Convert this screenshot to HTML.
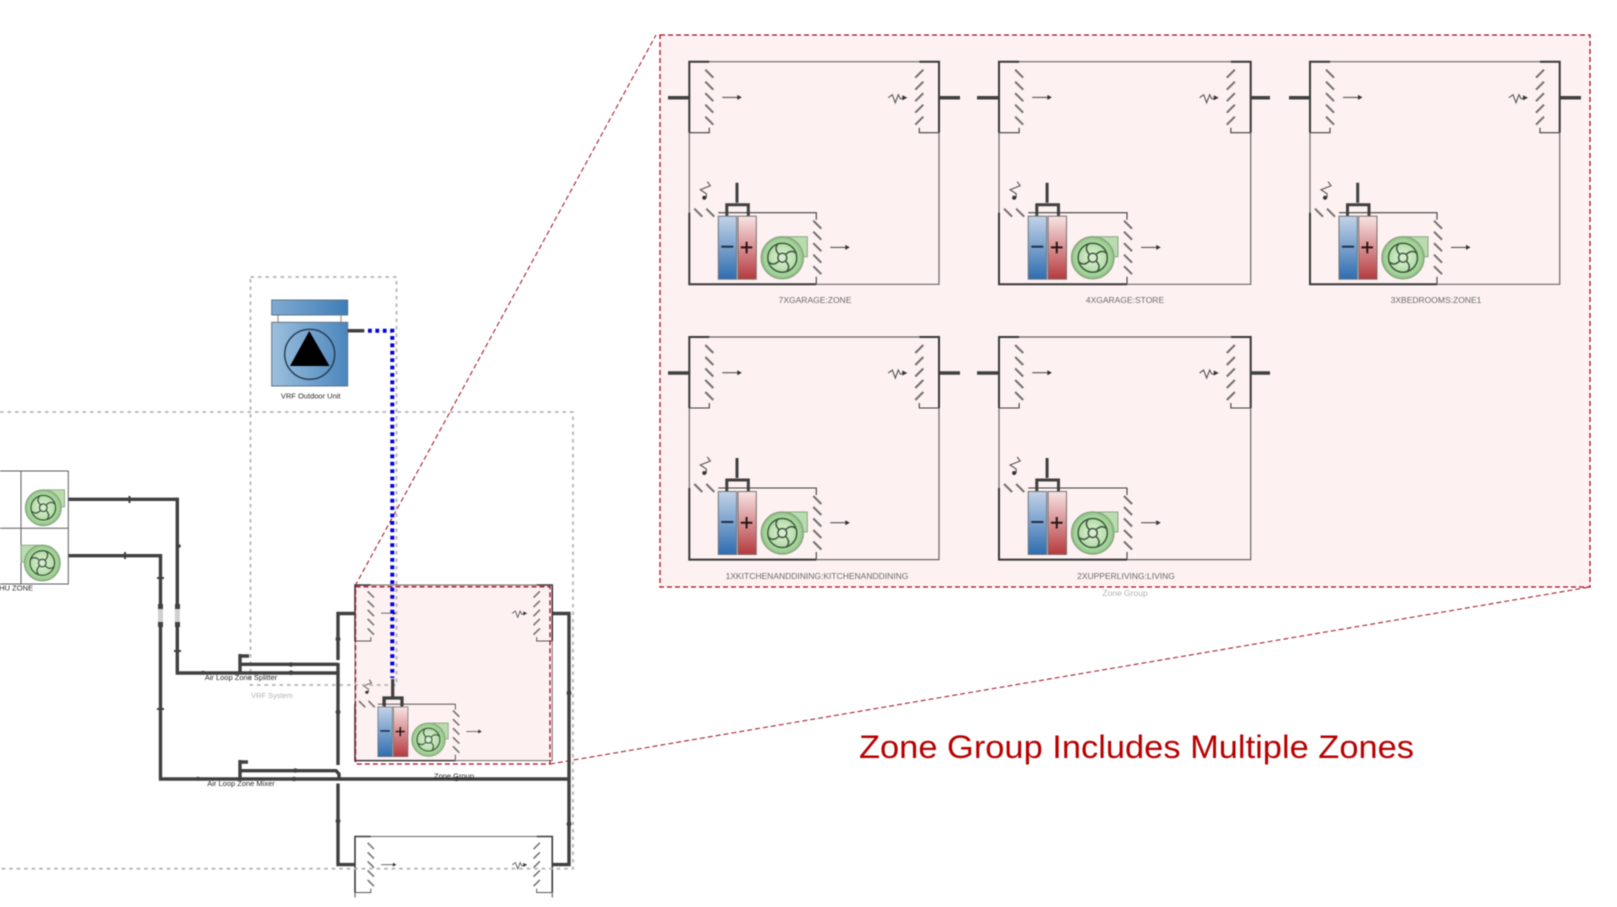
<!DOCTYPE html>
<html><head><meta charset="utf-8"><style>
html,body{margin:0;padding:0;background:#fff;width:1617px;height:907px;overflow:hidden}
svg{display:block;filter:blur(.55px)}
text{font-family:"Liberation Sans",sans-serif}
</style></head><body>
<svg width="1617" height="907" viewBox="0 0 1617 907" xmlns="http://www.w3.org/2000/svg">
<defs>
<linearGradient id="bl" x1="0" y1="0" x2="0" y2="1"><stop offset="0" stop-color="#c3d3e8"/><stop offset="1" stop-color="#2f6db0"/></linearGradient>
<linearGradient id="rd" x1="0" y1="0" x2="0" y2="1"><stop offset="0" stop-color="#f8e4e4"/><stop offset="1" stop-color="#b53a3e"/></linearGradient>
<linearGradient id="ou" x1="0" y1="0" x2="1" y2="0"><stop offset="0" stop-color="#9dbfdd"/><stop offset="1" stop-color="#4a86bd"/></linearGradient>
<linearGradient id="ou2" x1="0" y1="0" x2="1" y2="0"><stop offset="0" stop-color="#7fabd3"/><stop offset="1" stop-color="#3f7db8"/></linearGradient>
<radialGradient id="fg"><stop offset="0" stop-color="#e4f3dc"/><stop offset=".7" stop-color="#b0dba4"/><stop offset="1" stop-color="#8fc585"/></radialGradient>
<g id="fan">
<path d="M4,-21 H25 V-1 H19 Z" fill="#b9dcaf" stroke="#8aa583" stroke-width="1"/>
<circle r="21" fill="url(#fg)" stroke="#8aa583" stroke-width="1.5"/>
<circle r="14.5" fill="none" stroke="#3f5a40" stroke-width="1.5"/>
<circle r="4.5" fill="#d5ebce" stroke="#3f5a40" stroke-width="1.5"/>
<path d="M-3,-3 Q-9,-9 -4,-14 M3,-3 Q9,-9 14,-4 M3,3 Q9,9 4,14 M-3,3 Q-9,9 -14,4" fill="none" stroke="#3f5a40" stroke-width="1.5"/>
</g>
<g id="ztop">
<path d="M20,0 H230" fill="none" stroke="#6b6666" stroke-width="1.2"/>
<path d="M0,71 V0 H20" fill="none" stroke="#383838" stroke-width="2"/>
<path d="M0,71 H20 V66" fill="none" stroke="#404040" stroke-width="1.1"/>
<path d="M249.7,71 V0 H230" fill="none" stroke="#383838" stroke-width="2"/>
<path d="M249.7,71 H230 V66" fill="none" stroke="#404040" stroke-width="1.1"/>
<g stroke="#747070" stroke-width="2" fill="none">
<path d="M16,8 L24,16 M16,20 L24,28 M16,31.5 L24,39.5 M16,43 L24,51 M16,55 L24,63"/>
<path d="M234,8 L226,16 M234,20 L226,28 M234,31.5 L226,39.5 M234,43 L226,51 M234,55 L226,63"/>
</g>
<g stroke="#555" stroke-width="1.1" fill="#333">
<path d="M33,35.7 H50" fill="none"/><path d="M48,33.2 L52.5,35.7 L48,38.2 Z" stroke="none"/>
<path d="M199,36 L203,33 L206,41 L209,33 L211,37 H214" fill="none"/><path d="M213,33.5 L218,36 L213,38.5 Z" stroke="none"/>
</g>
</g>
<g id="zlow">
<path d="M0,71 V222.6 M249.7,71 V222.6 H127" fill="none" stroke="#6b6666" stroke-width="1.2"/>
<path d="M0,151 V222.6 H127" fill="none" stroke="#383838" stroke-width="2"/>
<path d="M29,151 H127 V158 M127,215 V222" fill="none" stroke="#404040" stroke-width="1.1"/>
<g stroke="#747070" stroke-width="2" fill="none">
<path d="M124,159 L132,167 M124,170 L132,178 M124,181.5 L132,189.5 M124,193 L132,201 M124,204.5 L132,212.5"/>
<path d="M5,147 L13,155 M17,147 L25,155"/>
</g>
<g stroke="#555" stroke-width="1.1" fill="#333">
<path d="M141,185.7 H158" fill="none"/><path d="M156,183.2 L160.5,185.7 L156,188.2 Z" stroke="none"/>
<path d="M18,120 L21,124 L11,128 L17,132 V136" fill="none"/><circle cx="15" cy="136" r="2" stroke="none"/>
</g>
<rect x="29" y="154.5" width="18.3" height="63" fill="url(#bl)" stroke="#70767c" stroke-width="1"/>
<rect x="48.7" y="154.5" width="18.3" height="63" fill="url(#rd)" stroke="#7c7070" stroke-width="1"/>
<path d="M32,185 H44" stroke="#1d2f45" stroke-width="2"/>
<path d="M51.5,185.7 H63 M57.3,180 V191.5" stroke="#2a1416" stroke-width="2"/>
<path d="M47.7,121 V141 M37.5,154 V143 H59 V154" fill="none" stroke="#404040" stroke-width="3"/>
<use href="#fan" x="93" y="196"/>
</g>
<g id="zone"><use href="#ztop"/><use href="#zlow"/></g>
</defs>

<!-- pink big panel -->
<rect x="660" y="35" width="930" height="552" fill="#fdf1f1" stroke="#a80a20" stroke-width="1.3" stroke-dasharray="5 3"/>
<path d="M355,586 L656,35 M550,764 L1590,587" fill="none" stroke="#a82034" stroke-width="1.1" stroke-dasharray="5 3"/>

<use href="#zone" transform="translate(689.3,61.7)"/>
<use href="#zone" transform="translate(999,61.7) scale(1.008,1)"/>
<use href="#zone" transform="translate(1310,61.7)"/>
<use href="#zone" transform="translate(689.3,337)"/>
<use href="#zone" transform="translate(999,337) scale(1.008,1)"/>
<g stroke="#404040" stroke-width="3.5" fill="none">
<path d="M668,97.7 H689 M939,97.7 H960 M977,97.7 H999 M1250.5,97.7 H1270 M1289,97.7 H1310 M1559.7,97.7 H1581"/>
<path d="M668,373 H689 M939,373 H960 M977,373 H999 M1250.5,373 H1270"/>
</g>
<g font-size="8.5" fill="#6a6a6a" text-anchor="middle">
<text x="815" y="303">7XGARAGE:ZONE</text>
<text x="1125" y="303">4XGARAGE:STORE</text>
<text x="1436" y="303">3XBEDROOMS:ZONE1</text>
<text x="817" y="579">1XKITCHENANDDINING:KITCHENANDDINING</text>
<text x="1126" y="579">2XUPPERLIVING:LIVING</text>
<text x="1125" y="596" fill="#b0b0b0">Zone Group</text>
</g>
<text x="859" y="758" font-size="32" fill="#b80000" textLength="555" lengthAdjust="spacingAndGlyphs">Zone Group Includes Multiple Zones</text>

<!-- small zone pink -->
<rect x="355" y="585" width="197.3" height="175.7" fill="#fdf1f1"/>
<use href="#zone" transform="translate(355,585) scale(.79,.789)"/>

<!-- bottom zone, top part only -->
<use href="#ztop" transform="translate(355,836.5) scale(.79,.789)"/>
<path d="M355,892 V897.5 M552.3,892 V897.5" stroke="#6b6666" stroke-width="1.2" fill="none"/>

<!-- gray dashed containers -->
<g fill="none" stroke="#b4b4b4" stroke-width="1.8" stroke-dasharray="3.5 4">
<rect x="250.5" y="277" width="146" height="408"/>
<path d="M0,412 H573 V868.7 H0"/>
</g>

<!-- ducts -->
<g fill="none" stroke="#404040" stroke-width="3.4">
<path d="M68,499.3 H177.3 V606 M177.3,625 V673 H338"/>
<path d="M68,555.7 H160.5 V606 M160.5,625 V779 H337.5 L340,779 H569"/>
<path d="M240,656 H249 M240,654 V673 M240,664.3 H338"/>
<path d="M240,762 H248 M240,760 V779 M240,770.7 H336 L339,774 V779"/>
<path d="M355,613.5 H338 V660 M338,663 V765 M338,783.5 V864.6 H355"/>
<path d="M552,613.5 H569 V864.6 H552"/>
</g>
<g fill="none" stroke="#cfcfcf" stroke-width="5"><path d="M160.5,608 V623 M177.3,608 V623"/></g>
<g fill="#404040">
<rect x="158" y="604" width="5" height="5"/><rect x="158" y="622" width="5" height="5"/>
<rect x="175" y="604" width="5" height="5"/><rect x="175" y="622" width="5" height="5"/>
<rect x="128.5" y="496" width="2" height="7"/><rect x="124" y="552" width="2" height="7"/>
<circle cx="179" cy="546" r="1.8"/><rect x="157" y="577" width="7" height="2"/>
<rect x="174" y="650" width="7" height="2"/><rect x="157" y="708" width="7" height="2"/>
<circle cx="203" cy="672.7" r="2"/><circle cx="198" cy="778.8" r="2"/>
<circle cx="291" cy="664.5" r="2.3"/><circle cx="291" cy="672.7" r="2.3"/>
<circle cx="295.4" cy="770.5" r="2.3"/><circle cx="294" cy="779" r="2.3"/>
<circle cx="338" cy="639" r="2.5"/><circle cx="338" cy="712" r="2.5"/><circle cx="338" cy="821" r="2.5"/>
<circle cx="569" cy="693" r="2.5"/><circle cx="569" cy="824" r="2.5"/><circle cx="456.5" cy="779" r="2.3"/>
</g>

<!-- outdoor unit -->
<path d="M278,315 V322.3 M341,315 V322.3" stroke="#b5a79a" stroke-width="1.5"/>
<rect x="271.7" y="300" width="76" height="15" fill="url(#ou2)" stroke="#5f7488" stroke-width="1"/>
<rect x="271.7" y="322.3" width="76" height="63.7" fill="url(#ou)" stroke="#5f7488" stroke-width="1"/>
<circle cx="309.7" cy="354.3" r="25" fill="none" stroke="#24394f" stroke-width="1.4"/>
<path d="M309.3,331 L329.5,366 H290 Z" fill="#000"/>
<path d="M347.7,330.7 H364.3" stroke="#404040" stroke-width="3.5"/>
<path d="M368,330.7 H392.3 V678" fill="none" stroke="#0000e0" stroke-width="4" stroke-dasharray="3.8 3.6"/>

<!-- thicker coil connector of the small zone -->
<path d="M392.7,679 V697 M384,706 V698 H402 V706" fill="none" stroke="#404040" stroke-width="3.2"/>

<!-- red dashed over small zone -->
<rect x="355.5" y="586.7" width="194.5" height="177.3" fill="none" stroke="#a80a20" stroke-width="1.3" stroke-dasharray="5 3"/>

<!-- AHU fans -->
<g fill="none" stroke="#5c5c5c" stroke-width="1">
<rect x="-5" y="471" width="73.3" height="113"/>
<path d="M-5,528.3 H68.3 M21,471 V584"/>
</g>
<use href="#fan" transform="translate(43.3,507.7) scale(.85)"/>
<use href="#fan" transform="translate(42.3,563) scale(-.85,.85)"/>

<!-- small labels -->
<g font-size="7.5" text-anchor="middle" fill="#2a2a2a">
<text x="310.7" y="398.5">VRF Outdoor Unit</text>
<text x="241" y="680">Air Loop Zone Splitter</text>
<text x="241" y="786">Air Loop Zone Mixer</text>
<text x="454" y="778.5">Zone Group</text>
<text x="272" y="698" fill="#b0b0b0">VRF System</text>
<text x="33" y="590.5" text-anchor="end">AHU ZONE</text>
</g>
</svg>
</body></html>
